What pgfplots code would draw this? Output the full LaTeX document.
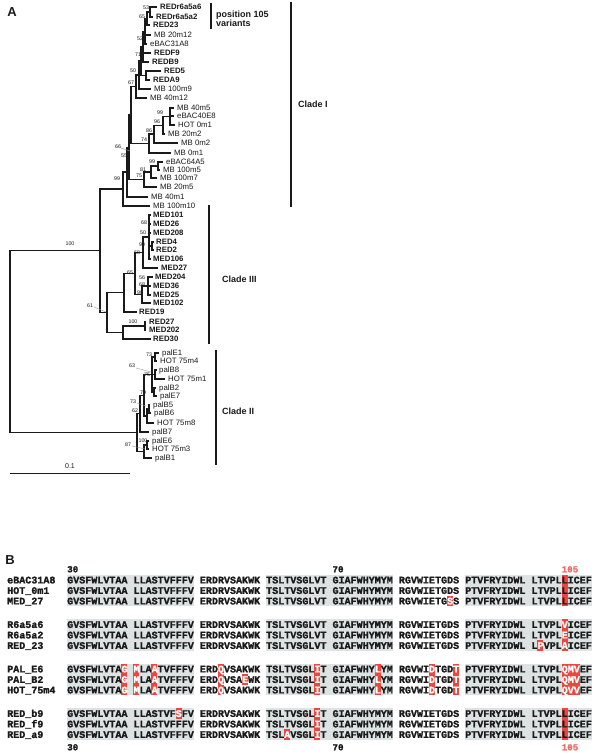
\documentclass[border=0pt]{standalone}
\usepackage{fontspec}
\setmainfont{Liberation Sans}
\newfontfamily\seqfont{Liberation Mono}[BoldFeatures={FakeBold=1.5}]
\usepackage{pgfplots}
\pgfplotsset{compat=1.18}

\definecolor{ink}{HTML}{1A1A1A}
\definecolor{hl}{HTML}{E8483F}
\definecolor{shade}{HTML}{DDE3E3}
\definecolor{numred}{HTML}{F06A6A}

\newcommand{\w}[1]{\textcolor{white}{#1}}

\tikzset{
  tree/.style={ink, line width=1.3pt, line join=miter, mark=none},
  cladebar/.style={ink, line width=2pt, mark=none},
  lead/.style={black!40, line width=0.4pt, mark=none},
  lf/.style={anchor=base west, inner sep=0pt, font=\fontsize{7.8}{9}\selectfont, text=ink},
  lfb/.style={anchor=base west, inner sep=0pt, font=\fontsize{7.8}{9}\selectfont\bfseries, text=ink},
  bs/.style={inner sep=0pt, font=\fontsize{5.3}{6}\selectfont, text=ink},
  cl/.style={anchor=base west, inner sep=0pt, font=\fontsize{9}{10}\selectfont\bfseries, text=ink},
  sq/.style={anchor=base west, inner sep=0pt, font=\seqfont\bfseries\fontsize{10.05}{12}\selectfont, text=ink},
  posnum/.style={anchor=base west, inner sep=0pt, font=\seqfont\bfseries\fontsize{9.2}{11}\selectfont},
  shd/.style={fill=shade, draw=none, mark=none},
  subst/.style={fill=hl, draw=none, mark=none},
}

\begin{document}
\begin{tikzpicture}
\begin{axis}[
  width=601pt, height=754pt, scale only axis,
  xmin=0, xmax=601, ymin=0, ymax=754, y dir=reverse,
  hide axis, clip=false,
  unbounded coords=jump,
]
% page background
\addplot[fill=white, draw=none, mark=none] coordinates {(0,0)(601,0)(601,754)(0,754)};

% ---------------- tree (panel A) ----------------
% clade I
\addplot[tree] coordinates {
(157,7)(150,7)(150,17)(153,17) (nan,nan)
(150,12)(147,12)(147,25)(150,25) (nan,nan)
(147,18.5)(145,18.5)(145,44)(147,44) (nan,nan)
(145,35)(151,35) (nan,nan)
(145,31.3)(143,31.3)(143,62)(149,62) (nan,nan)
(143,53)(151,53) (nan,nan)
(161,71)(146,71)(146,80)(150,80) (nan,nan)
(143,46.6)(141,46.6)(141,75.5)(146,75.5) (nan,nan)
(141,61)(139,61)(139,89)(151,89) (nan,nan)
(139,75)(136,75)(136,98)(147,98) (nan,nan)
(174,108)(170,108)(170,125)(175,125) (nan,nan)
(170,116)(174,116) (nan,nan)
(170,116.5)(163,116.5)(163,134)(165,134) (nan,nan)
(163,125.3)(154,125.3)(154,143)(178,143) (nan,nan)
(154,134.1)(149,134.1)(149,153)(171,153) (nan,nan)
(163,162)(158,162)(158,170)(160,170) (nan,nan)
(158,166)(151,166)(151,178)(157,178) (nan,nan)
(151,172)(144,172)(144,187)(157,187) (nan,nan)
(136,86.5)(131,86.5)(131,143.6)(149,143.6) (nan,nan)
(131,115)(129,115)(129,179.5)(144,179.5) (nan,nan)
(129,147.3)(127,147.3)(127,197)(148,197) (nan,nan)
(127,172.1)(123,172.1)(123,206)(150,206)
};
% clade III
\addplot[tree] coordinates {
(154,242)(152,242)(152,250)(154,250) (nan,nan)
(151,215)(149,215)(149,259)(151,259) (nan,nan)
(149,224)(151,224) (nan,nan)
(149,233)(151,233) (nan,nan)
(149,246)(152,246) (nan,nan)
(149,237)(143,237)(143,268)(158,268) (nan,nan)
(153,277)(148,277)(148,295)(151,295) (nan,nan)
(148,286)(151,286) (nan,nan)
(148,286)(142,286)(142,303)(151,303) (nan,nan)
(143,252.5)(135,252.5)(135,294.5)(142,294.5) (nan,nan)
(135,273.5)(124,273.5)(124,312)(137,312) (nan,nan)
(146,322)(145,322)(145,330)(146,330) (nan,nan)
(145,326)(123,326)(123,339)(151,339) (nan,nan)
(124,292.8)(107,292.8)(107,332.5)(123,332.5) (nan,nan)
(123,189)(100,189)(100,312.6)(107,312.6)
};
% clade II and root
\addplot[tree] coordinates {
(159,353)(155,353)(155,361)(157,361) (nan,nan)
(157,370)(155,370)(155,379)(165,379) (nan,nan)
(156,388)(154,388)(154,396)(157,396) (nan,nan)
(155,357)(152,357)(152,392)(154,392) (nan,nan)
(152,374.5)(155,374.5) (nan,nan)
(150,405)(149,405)(149,413)(151,413) (nan,nan)
(149,409)(147,409)(147,423)(154,423) (nan,nan)
(152,374.5)(144,374.5)(144,416)(147,416) (nan,nan)
(144,395.3)(140,395.3)(140,432)(149,432) (nan,nan)
(149,441)(147,441)(147,449)(149,449) (nan,nan)
(147,445)(144,445)(144,458)(152,458) (nan,nan)
(140,413.6)(137,413.6)(137,451.5)(144,451.5) (nan,nan)
(100,250.8)(10,250.8)(10,432.6)(137,432.6)
};
% leader lines of some bootstrap values
\addplot[lead] coordinates {
(121,148)(130,151) (nan,nan)
(94,307)(106,312) (nan,nan)
(136,368)(151,372) (nan,nan)
(137,403)(146,406) (nan,nan)
(132,446)(145,449)
};
% scale bar
\addplot[ink, line width=1pt, mark=none] coordinates {(10,473)(130,473)};
% clade bars
\addplot[cladebar] coordinates {(211,3)(211,29)};
\addplot[cladebar] coordinates {(291,2)(291,207)};
\addplot[cladebar] coordinates {(209,205)(209,344)};
\addplot[cladebar] coordinates {(216,350)(216,465)};

% leaf names
\node[lfb] at (axis cs:160,9.9) {REDr6a5a6};
\node[lfb] at (axis cs:156,19.9) {REDr6a5a2};
\node[lfb] at (axis cs:153,27.9) {RED23};
\node[lf]  at (axis cs:154,37.9) {MB 20m12};
\node[lf]  at (axis cs:150,46.9) {eBAC31A8};
\node[lfb] at (axis cs:154,55.9) {REDF9};
\node[lfb] at (axis cs:152,64.9) {REDB9};
\node[lfb] at (axis cs:164,73.9) {RED5};
\node[lfb] at (axis cs:153,82.9) {REDA9};
\node[lf]  at (axis cs:154,91.9) {MB 100m9};
\node[lf]  at (axis cs:150,100.9) {MB 40m12};
\node[lf]  at (axis cs:177,110.9) {MB 40m5};
\node[lf]  at (axis cs:177,118.9) {eBAC40E8};
\node[lf]  at (axis cs:178,127.9) {HOT 0m1};
\node[lf]  at (axis cs:168,136.9) {MB 20m2};
\node[lf]  at (axis cs:181,145.9) {MB 0m2};
\node[lf]  at (axis cs:174,155.9) {MB 0m1};
\node[lf]  at (axis cs:166,164.9) {eBAC64A5};
\node[lf]  at (axis cs:163,172.9) {MB 100m5};
\node[lf]  at (axis cs:160,180.9) {MB 100m7};
\node[lf]  at (axis cs:160,189.9) {MB 20m5};
\node[lf]  at (axis cs:151,199.9) {MB 40m1};
\node[lf]  at (axis cs:153,208.9) {MB 100m10};

\node[lfb] at (axis cs:153,217.9) {MED101};
\node[lfb] at (axis cs:153,226.9) {MED26};
\node[lfb] at (axis cs:153,235.9) {MED208};
\node[lfb] at (axis cs:156,244.9) {RED4};
\node[lfb] at (axis cs:156,252.9) {RED2};
\node[lfb] at (axis cs:153,261.9) {MED106};
\node[lfb] at (axis cs:161,270.9) {MED27};
\node[lfb] at (axis cs:155,279.9) {MED204};
\node[lfb] at (axis cs:153,288.9) {MED36};
\node[lfb] at (axis cs:153,297.9) {MED25};
\node[lfb] at (axis cs:153,305.9) {MED102};
\node[lfb] at (axis cs:139,314.9) {RED19};
\node[lfb] at (axis cs:149,324.9) {RED27};
\node[lfb] at (axis cs:149,332.9) {MED202};
\node[lfb] at (axis cs:153,341.9) {RED30};

\node[lf] at (axis cs:162,355.9) {palE1};
\node[lf] at (axis cs:160,363.9) {HOT 75m4};
\node[lf] at (axis cs:159,372.9) {palB8};
\node[lf] at (axis cs:168,381.9) {HOT 75m1};
\node[lf] at (axis cs:159,390.9) {palB2};
\node[lf] at (axis cs:160,398.9) {palE7};
\node[lf] at (axis cs:153,407.9) {palB5};
\node[lf] at (axis cs:154,415.9) {palB6};
\node[lf] at (axis cs:157,425.9) {HOT 75m8};
\node[lf] at (axis cs:152,434.9) {palB7};
\node[lf] at (axis cs:152,443.9) {palE6};
\node[lf] at (axis cs:152,451.9) {HOT 75m3};
\node[lf] at (axis cs:155,460.9) {palB1};

% bootstrap values
\node[bs] at (axis cs:146,8) {53};
\node[bs] at (axis cs:142,17) {65};
\node[bs] at (axis cs:140,39) {52};
\node[bs] at (axis cs:138,55) {71};
\node[bs] at (axis cs:133,71) {50};
\node[bs] at (axis cs:131,83) {67};
\node[bs] at (axis cs:160,113) {99};
\node[bs] at (axis cs:157,122) {96};
\node[bs] at (axis cs:149,131) {86};
\node[bs] at (axis cs:144,140) {74};
\node[bs] at (axis cs:118,147) {66};
\node[bs] at (axis cs:124,156) {55};
\node[bs] at (axis cs:152,162) {99};
\node[bs] at (axis cs:143,170) {81};
\node[bs] at (axis cs:139,176) {75};
\node[bs] at (axis cs:117,179) {99};
\node[bs] at (axis cs:70,244) {100};
\node[bs] at (axis cs:144,223) {68};
\node[bs] at (axis cs:143,233) {50};
\node[bs] at (axis cs:142,245) {90};
\node[bs] at (axis cs:137,253) {68};
\node[bs] at (axis cs:130,273) {65};
\node[bs] at (axis cs:142,278) {56};
\node[bs] at (axis cs:142,285) {68};
\node[bs] at (axis cs:140,293) {90};
\node[bs] at (axis cs:90,306) {61};
\node[bs] at (axis cs:133,322) {100};
\node[bs] at (axis cs:149,355) {73};
\node[bs] at (axis cs:132,366) {63};
\node[bs] at (axis cs:147,375) {75};
\node[bs] at (axis cs:143,393) {79};
\node[bs] at (axis cs:133,402) {73};
\node[bs] at (axis cs:135,411) {62};
\node[bs] at (axis cs:143,441) {100};
\node[bs] at (axis cs:128,445) {87};

% clade labels, scale, panel letter
\node[cl] at (axis cs:216,17.2) {position 105};
\node[cl] at (axis cs:216,26.2) {variants};
\node[cl] at (axis cs:298,107.2) {Clade I};
\node[cl] at (axis cs:222,282.2) {Clade III};
\node[cl] at (axis cs:222,414.2) {Clade II};
\node[inner sep=0pt, font=\fontsize{7}{8}\selectfont, text=ink] at (axis cs:70,466) {0.1};
\node[inner sep=0pt, font=\fontsize{13}{14}\selectfont\bfseries, text=ink] at (axis cs:12,12) {A};

% ---------------- alignment (panel B) ----------------
\node[inner sep=0pt, font=\fontsize{13}{14}\selectfont\bfseries, text=ink] at (axis cs:10,560) {B};

% shaded stretches (blocks 1-2, 4-5, 7-8 of each group)
\addplot[shd] coordinates {(67,574.7)(193.6,574.7)(193.6,606.3)(67,606.3)};
\addplot[shd] coordinates {(266,574.7)(392.6,574.7)(392.6,606.3)(266,606.3)};
\addplot[shd] coordinates {(465,574.7)(591.6,574.7)(591.6,606.3)(465,606.3)};
\addplot[shd] coordinates {(67,619.2)(193.6,619.2)(193.6,650.8)(67,650.8)};
\addplot[shd] coordinates {(266,619.2)(392.6,619.2)(392.6,650.8)(266,650.8)};
\addplot[shd] coordinates {(465,619.2)(591.6,619.2)(591.6,650.8)(465,650.8)};
\addplot[shd] coordinates {(67,663.7)(193.6,663.7)(193.6,695.3)(67,695.3)};
\addplot[shd] coordinates {(266,663.7)(392.6,663.7)(392.6,695.3)(266,695.3)};
\addplot[shd] coordinates {(465,663.7)(591.6,663.7)(591.6,695.3)(465,695.3)};
\addplot[shd] coordinates {(67,708.2)(193.6,708.2)(193.6,739.8)(67,739.8)};
\addplot[shd] coordinates {(266,708.2)(392.6,708.2)(392.6,739.8)(266,739.8)};
\addplot[shd] coordinates {(465,708.2)(591.6,708.2)(591.6,739.8)(465,739.8)};

% substituted residues
\addplot[subst] coordinates {(561.5,574.7)(567.5,574.7)(567.5,606.3)(561.5,606.3)};
\addplot[subst] coordinates {(446.9,595.7)(452.9,595.7)(452.9,606.3)(446.9,606.3)};
\addplot[subst] coordinates {(561.5,619.2)(567.5,619.2)(567.5,650.8)(561.5,650.8)};
\addplot[subst] coordinates {(537.3,640.2)(543.4,640.2)(543.4,650.8)(537.3,650.8)};
\addplot[subst] coordinates {(121.3,663.7)(127.3,663.7)(127.3,695.3)(121.3,695.3)};
\addplot[subst] coordinates {(133.3,663.7)(139.4,663.7)(139.4,695.3)(133.3,695.3)};
\addplot[subst] coordinates {(151.4,663.7)(157.4,663.7)(157.4,695.3)(151.4,695.3)};
\addplot[subst] coordinates {(217.8,663.7)(223.8,663.7)(223.8,695.3)(217.8,695.3)};
\addplot[subst] coordinates {(241.9,674.2)(247.9,674.2)(247.9,684.8)(241.9,684.8)};
\addplot[subst] coordinates {(314.2,663.7)(320.2,663.7)(320.2,695.3)(314.2,695.3)};
\addplot[subst] coordinates {(374.5,663.7)(380.5,663.7)(380.5,695.3)(374.5,695.3)};
\addplot[subst] coordinates {(428.8,663.7)(434.8,663.7)(434.8,695.3)(428.8,695.3)};
\addplot[subst] coordinates {(452.9,663.7)(458.9,663.7)(458.9,695.3)(452.9,695.3)};
\addplot[subst] coordinates {(561.5,663.7)(579.6,663.7)(579.6,695.3)(561.5,695.3)};
\addplot[subst] coordinates {(175.5,708.2)(181.6,708.2)(181.6,718.8)(175.5,718.8)};
\addplot[subst] coordinates {(284.1,729.2)(290.1,729.2)(290.1,739.8)(284.1,739.8)};
\addplot[subst] coordinates {(314.2,708.2)(320.2,708.2)(320.2,739.8)(314.2,739.8)};
\addplot[subst] coordinates {(561.5,708.2)(567.5,708.2)(567.5,739.8)(561.5,739.8)};

% position numbers
\node[posnum, text=ink] at (axis cs:67,572.3) {30};
\node[posnum, text=ink] at (axis cs:332.3,572.3) {70};
\node[posnum, text=numred] at (axis cs:561.5,572.3) {105};
\node[posnum, text=ink] at (axis cs:67,750.3) {30};
\node[posnum, text=ink] at (axis cs:332.3,750.3) {70};
\node[posnum, text=numred] at (axis cs:561.5,750.3) {105};

% sequence names
\node[sq] at (axis cs:7,583.4) {eBAC31A8};
\node[sq] at (axis cs:7,593.9) {HOT\_0m1};
\node[sq] at (axis cs:7,604.4) {MED\_27};
\node[sq] at (axis cs:7,627.9) {R6a5a6};
\node[sq] at (axis cs:7,638.4) {R6a5a2};
\node[sq] at (axis cs:7,648.9) {RED\_23};
\node[sq] at (axis cs:7,672.4) {PAL\_E6};
\node[sq] at (axis cs:7,682.9) {PAL\_B2};
\node[sq] at (axis cs:7,693.4) {HOT\_75m4};
\node[sq] at (axis cs:7,716.9) {RED\_b9};
\node[sq] at (axis cs:7,727.4) {RED\_f9};
\node[sq] at (axis cs:7,737.9) {RED\_a9};

% sequences
\node[sq] at (axis cs:67,583.4) {GVSFWLVTAA LLASTVFFFV ERDRVSAKWK TSLTVSGLVT GIAFWHYMYM RGVWIETGDS PTVFRYIDWL LTVPLLICEF};
\node[sq] at (axis cs:67,593.9) {GVSFWLVTAA LLASTVFFFV ERDRVSAKWK TSLTVSGLVT GIAFWHYMYM RGVWIETGDS PTVFRYIDWL LTVPLLICEF};
\node[sq] at (axis cs:67,604.4) {GVSFWLVTAA LLASTVFFFV ERDRVSAKWK TSLTVSGLVT GIAFWHYMYM RGVWIETG\w{S}S PTVFRYIDWL LTVPLLICEF};
\node[sq] at (axis cs:67,627.9) {GVSFWLVTAA LLASTVFFFV ERDRVSAKWK TSLTVSGLVT GIAFWHYMYM RGVWIETGDS PTVFRYIDWL LTVPL\w{V}ICEF};
\node[sq] at (axis cs:67,638.4) {GVSFWLVTAA LLASTVFFFV ERDRVSAKWK TSLTVSGLVT GIAFWHYMYM RGVWIETGDS PTVFRYIDWL LTVPL\w{E}ICEF};
\node[sq] at (axis cs:67,648.9) {GVSFWLVTAA LLASTVFFFV ERDRVSAKWK TSLTVSGLVT GIAFWHYMYM RGVWIETGDS PTVFRYIDWL L\w{P}VPL\w{A}ICEF};
\node[sq] at (axis cs:67,672.4) {GVSFWLVTA\w{G} \w{M}LA\w{A}TVFFFV ERD\w{Q}VSAKWK TSLTVSGL\w{I}T GIAFWHY\w{L}YM RGVWI\w{D}TGD\w{T} PTVFRYIDWL LTVPL\w{QMV}EF};
\node[sq] at (axis cs:67,682.9) {GVSFWLVTA\w{G} \w{M}LA\w{A}TVFFFV ERD\w{Q}VSA\w{E}WK TSLTVSGL\w{I}T GIAFWHY\w{L}YM RGVWI\w{D}TGD\w{T} PTVFRYIDWL LTVPL\w{QMV}EF};
\node[sq] at (axis cs:67,693.4) {GVSFWLVTA\w{G} \w{M}LA\w{A}TVFFFV ERD\w{Q}VSAKWK TSLTVSGL\w{I}T GIAFWHY\w{L}YM RGVWI\w{D}TGD\w{T} PTVFRYIDWL LTVPL\w{QVV}EF};
\node[sq] at (axis cs:67,716.9) {GVSFWLVTAA LLASTVF\w{S}FV ERDRVSAKWK TSLTVSGL\w{I}T GIAFWHYMYM RGVWIETGDS PTVFRYIDWL LTVPLLICEF};
\node[sq] at (axis cs:67,727.4) {GVSFWLVTAA LLASTVFFFV ERDRVSAKWK TSLTVSGL\w{I}T GIAFWHYMYM RGVWIETGDS PTVFRYIDWL LTVPLLICEF};
\node[sq] at (axis cs:67,737.9) {GVSFWLVTAA LLASTVFFFV ERDRVSAKWK TSL\w{A}VSGL\w{I}T GIAFWHYMYM RGVWIETGDS PTVFRYIDWL LTVPLLICEF};
\end{axis}
\end{tikzpicture}
\end{document}
